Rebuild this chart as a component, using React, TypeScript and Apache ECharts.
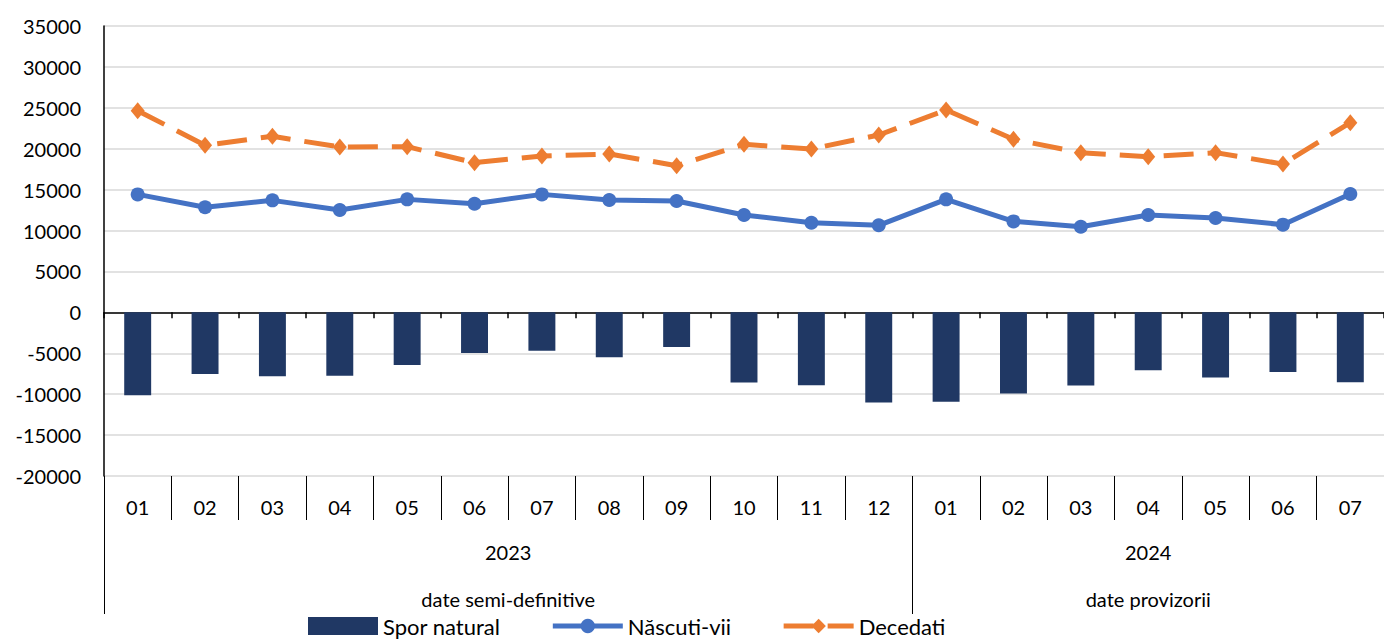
import React, { useEffect, useRef } from "react";
import * as echarts from "echarts";

const months = ["01","02","03","04","05","06","07","08","09","10","11","12","01","02","03","04","05","06","07"];
const sporNatural = [-10120,-7520,-7800,-7760,-6420,-4960,-4680,-5490,-4230,-8580,-8900,-11020,-10940,-9920,-8940,-7070,-7970,-7280,-8540];
const nascutiVii = [14420,12840,13690,12510,13810,13280,14420,13730,13610,11900,10960,10640,13810,11120,10470,11900,11530,10720,14470];
const decedati = [24650,20420,21520,20210,20250,18300,19110,19360,17930,20540,19970,21680,24740,21150,19520,19030,19520,18130,23190];
const yearLabels = [{ pos: 6, text: "2023" }, { pos: 15.5, text: "2024" }];
const statusLabels = [{ pos: 6, text: "date semi-definitive" }, { pos: 15.5, text: "date provizorii" }];
const groupBounds = [0, 12, 19];

const FONT = "Lato, 'Open Sans', sans-serif";

export default function App() {
  const ref = useRef<HTMLDivElement>(null);
  useEffect(() => {
    if (!ref.current) return;
    const chart = echarts.init(ref.current, null, { renderer: "svg" });
    const labelFor = (arr: { pos: number; text: string }[]) => (v: number) => {
      const f = arr.find((a) => Math.abs(a.pos - v) < 1e-6);
      return f ? f.text : "";
    };
    chart.setOption({
      animation: false,
      textStyle: { fontFamily: FONT },
      grid: { left: 104, top: 26, width: 1284, height: 450, containLabel: false },
      legend: {
        top: 614,
        left: 308,
        padding: 0,
        itemWidth: 70,
        itemHeight: 18,
        itemGap: 50,
        lineStyle: { width: 5 },
        textStyle: { fontSize: 22, lineHeight: 24, color: "#000", fontFamily: FONT },
        data: [
          { name: "Spor natural", icon: "rect" },
          { name: "Născuti-vii" },
          { name: "Decedati" },
        ],
      },
      xAxis: [
        {
          type: "category",
          data: months,
          position: "bottom",
          axisLine: { onZero: true, lineStyle: { color: "#000", width: 1.5 } },
          axisTick: { show: true, length: 6, lineStyle: { color: "#000", width: 1.5 } },
          axisLabel: { show: false },
          splitLine: { show: false },
        },
        {
          type: "category",
          data: months,
          position: "bottom",
          axisLine: { show: false, onZero: false },
          axisTick: { show: true, length: 44, lineStyle: { color: "#000", width: 1 } },
          axisLabel: { show: true, margin: 21, fontSize: 20, color: "#000", fontFamily: FONT },
          splitLine: { show: false },
        },
        {
          type: "value",
          min: 0,
          max: 19,
          position: "bottom",
          axisLine: { show: false, onZero: false },
          axisTick: { show: true, customValues: groupBounds, length: 138, lineStyle: { color: "#000", width: 1 } },
          axisLabel: {
            show: true,
            customValues: yearLabels.map((d) => d.pos),
            formatter: labelFor(yearLabels),
            margin: 66,
            fontSize: 20,
            color: "#000",
            fontFamily: FONT,
          },
          splitLine: { show: false },
        },
        {
          type: "value",
          min: 0,
          max: 19,
          position: "bottom",
          axisLine: { show: false, onZero: false },
          axisTick: { show: false },
          axisLabel: {
            show: true,
            customValues: statusLabels.map((d) => d.pos),
            formatter: labelFor(statusLabels),
            margin: 113,
            fontSize: 20,
            color: "#000",
            fontFamily: FONT,
          },
          splitLine: { show: false },
        },
      ],
      yAxis: {
        type: "value",
        min: -20000,
        max: 35000,
        interval: 5000,
        axisLine: { show: true, lineStyle: { color: "#000", width: 1.5 } },
        axisTick: { show: false },
        axisLabel: { margin: 23, fontSize: 20, color: "#000", fontFamily: FONT, formatter: (v: number) => String(v) },
        splitLine: { show: true, lineStyle: { color: "#d9d9d9", width: 1.5 } },
      },
      series: [
        {
          name: "Spor natural",
          type: "bar",
          data: sporNatural,
          barWidth: "40%",
          itemStyle: { color: "#203864" },
        },
        {
          name: "Născuti-vii",
          type: "line",
          data: nascutiVii,
          symbol: "circle",
          symbolSize: 14,
          lineStyle: { color: "#4472C4", width: 5 },
          itemStyle: { color: "#4472C4" },
        },
        {
          name: "Decedati",
          type: "line",
          data: decedati,
          symbol: "diamond",
          symbolSize: [14, 17],
          lineStyle: { color: "#ED7D31", width: 5, type: [30, 14] },
          itemStyle: { color: "#ED7D31" },
        },
      ],
    });
    return () => chart.dispose();
  }, []);
  return (
    <div
      ref={ref}
      style={{ position: "fixed", left: 0, top: 0, width: 1384, height: 641, background: "#fff" }}
    />
  );
}
